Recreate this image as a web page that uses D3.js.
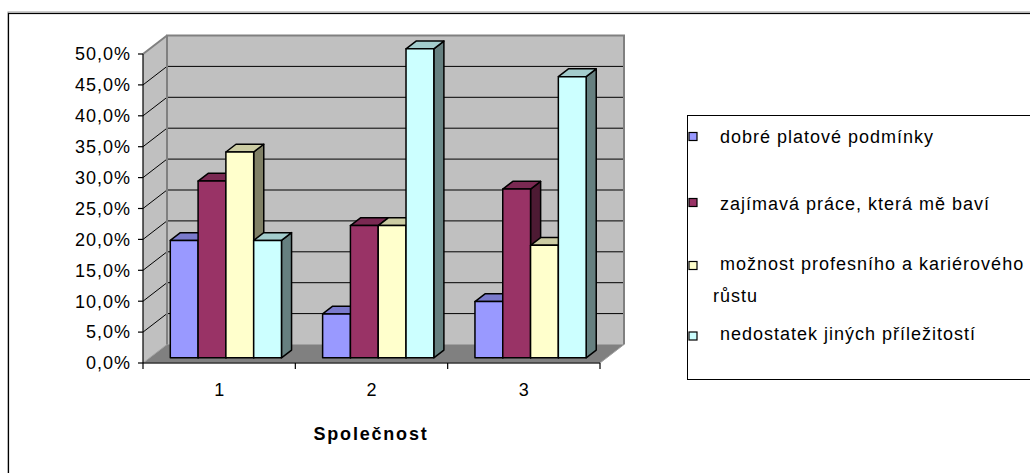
<!DOCTYPE html>
<html>
<head>
<meta charset="utf-8">
<script src="https://cdn.jsdelivr.net/npm/d3@7/dist/d3.min.js"></script>
<style>
  html, body { margin: 0; padding: 0; background: #fff; }
  svg { display: block; }
  text { font-family: "Liberation Sans", Arial, sans-serif; fill: #000; }
</style>
</head>
<body>
<svg id="chart" width="1030" height="473"></svg>
<script>
// Kategorie (společnosti) a hodnoty v procentech
const categories = ["1", "2", "3"];
const seriesNames = [
  "dobré platové podmínky",
  "zajímavá práce, která mě baví",
  "možnost profesního a kariérového růstu",
  "nedostatek jiných příležitostí"
];
const platove   = [19.0, 7.1, 9.1];
const zajimava  = [28.6, 21.4, 27.3];
const rust      = [33.3, 21.4, 18.2];
const nedostatek = [19.0, 50.0, 45.5];
const seriesValues = [platove, zajimava, rust, nedostatek];
const yTicks = [0, 5, 10, 15, 20, 25, 30, 35, 40, 45, 50];
const axisTitle = "Společnost";
const legendLines = [["dobré platové podmínky"], ["zajímavá práce, která mě baví"], ["možnost profesního a kariérového", "růstu"], ["nedostatek jiných příležitostí"]];

const frontCol = ["#9999FF", "#993366", "#FFFFCC", "#CCFFFF"];
const topCol   = ["#7A7ACC", "#7A2952", "#CCCCA3", "#A3CCCC"];
const sideCol  = ["#4D4D80", "#4D1A33", "#808066", "#668080"];

const svg = d3.select("#chart");

// outer frame
svg.append("rect").attr("x", 8).attr("y", 12).attr("width", 1040).attr("height", 480)
  .attr("fill", "none").attr("stroke", "#999").attr("stroke-width", 1);
svg.append("rect").attr("x", 8.5).attr("y", 13.5).attr("width", 1040).attr("height", 480)
  .attr("fill", "#fff").attr("stroke", "#000").attr("stroke-width", 1.2);

// 3D projection: depth 0 = front plane, 1 = back wall
const DX = 24, DY = -18.5;
const P = (x, y, d) => [x + d * DX, y + d * DY];
const poly = pts => pts.map(p => p.join(",")).join(" ");

const x0 = 143, x1 = 600;
const y = d3.scaleLinear().domain([0, 50]).range([363, 54]);
const xBand = d3.scaleBand().domain(categories).range([x0, x1]);
const xInner = d3.scaleBand().domain(d3.range(seriesNames.length))
  .range([0, xBand.bandwidth()]).paddingInner(0).paddingOuter(0.74);

const g = svg.append("g");

// back wall
g.append("polygon")
  .attr("points", poly([P(x0, y(50), 1), P(x1, y(50), 1), P(x1, y(0), 1), P(x0, y(0), 1)]))
  .attr("fill", "#C0C0C0");
// side wall
g.append("polygon")
  .attr("points", poly([P(x0, y(50), 0), P(x0, y(50), 1), P(x0, y(0), 1), P(x0, y(0), 0)]))
  .attr("fill", "#C0C0C0");
// floor
g.append("polygon")
  .attr("points", poly([P(x0, y(0), 0), P(x1, y(0), 0), P(x1, y(0), 1), P(x0, y(0), 1)]))
  .attr("fill", "#808080").attr("stroke", "#A0A0A0").attr("stroke-width", 1);

// gridlines on back and side walls
yTicks.filter(t => t > 0 && t < 50).forEach(t => {
  const a = P(x0, y(t), 1), b = P(x1, y(t), 1), c = P(x0, y(t), 0);
  g.append("line").attr("x1", a[0]).attr("y1", a[1]).attr("x2", b[0]).attr("y2", b[1])
    .attr("stroke", "#000").attr("stroke-width", 1);
  g.append("line").attr("x1", c[0]).attr("y1", c[1]).attr("x2", a[0]).attr("y2", a[1])
    .attr("stroke", "#000").attr("stroke-width", 1);
});

// wall edges
g.append("polyline")
  .attr("points", poly([P(x0, y(0), 1), P(x0, y(50), 1), P(x1, y(50), 1), P(x1, y(0), 1)]))
  .attr("fill", "none").attr("stroke", "#808080").attr("stroke-width", 2);
g.append("line")
  .attr("x1", P(x0, y(50), 0)[0]).attr("y1", P(x0, y(50), 0)[1])
  .attr("x2", P(x0, y(50), 1)[0]).attr("y2", P(x0, y(50), 1)[1])
  .attr("stroke", "#808080").attr("stroke-width", 2);

// bars, drawn left to right
const d0 = 0.28, d1 = 0.70;
const bars = g.append("g");
categories.forEach((cat, ci) => {
  seriesValues.forEach((vals, si) => {
    const v = vals[ci];
    const xl = xBand(cat) + xInner(si);
    const xr = xl + xInner.bandwidth();
    const yt = y(v), yb = y(0);
    const bg = bars.append("g").attr("stroke", "#000").attr("stroke-width", 1.5).attr("stroke-linejoin", "round");
    bg.append("polygon").attr("points", poly([P(xr, yt, d0), P(xr, yt, d1), P(xr, yb, d1), P(xr, yb, d0)]))
      .attr("fill", sideCol[si]);
    bg.append("polygon").attr("points", poly([P(xl, yt, d0), P(xr, yt, d0), P(xr, yt, d1), P(xl, yt, d1)]))
      .attr("fill", topCol[si]);
    bg.append("polygon").attr("points", poly([P(xl, yt, d0), P(xr, yt, d0), P(xr, yb, d0), P(xl, yb, d0)]))
      .attr("fill", frontCol[si]);
  });
});

// y axis
const fmt = t => d3.format(".1f")(t).replace(".", ",") + "%";
g.append("line").attr("x1", x0).attr("y1", y(50)).attr("x2", x0).attr("y2", y(0))
  .attr("stroke", "#000").attr("stroke-width", 1.2);
yTicks.forEach(t => {
  g.append("line").attr("x1", x0 - 5).attr("x2", x0).attr("y1", y(t)).attr("y2", y(t))
    .attr("stroke", "#000").attr("stroke-width", 1.2);
  g.append("text").attr("x", 131).attr("y", y(t)).attr("dy", "0.35em")
    .attr("text-anchor", "end").attr("font-size", 18).attr("letter-spacing", 1)
    .text(fmt(t));
});

// x axis
g.append("line").attr("x1", x0).attr("x2", x1).attr("y1", y(0)).attr("y2", y(0))
  .attr("stroke", "#000").attr("stroke-width", 1.2);
[...categories.map(c => xBand(c)), x1].forEach(xx => {
  g.append("line").attr("x1", xx).attr("x2", xx).attr("y1", y(0)).attr("y2", y(0) + 6)
    .attr("stroke", "#000").attr("stroke-width", 1.2);
});
categories.forEach(c => {
  g.append("text").attr("x", xBand(c) + xBand.bandwidth() / 2).attr("y", 390).attr("dy", "0.35em")
    .attr("text-anchor", "middle").attr("font-size", 18).text(c);
});
g.append("text").attr("x", 371).attr("y", 434).attr("dy", "0.35em")
  .attr("text-anchor", "middle").attr("font-size", 18).attr("font-weight", "bold")
  .attr("letter-spacing", 1.8).text(axisTitle);

// legend
const lg = svg.append("g");
lg.append("rect").attr("x", 687.5).attr("y", 115.5).attr("width", 400).attr("height", 264)
  .attr("fill", "#fff").attr("stroke", "#000").attr("stroke-width", 1);
const swatchY = [136.5, 202.5, 265.5, 336];
const baseY = [[143], [210], [270, 302], [340]];
seriesNames.forEach((name, i) => {
  lg.append("rect").attr("x", 689).attr("y", swatchY[i] - 4).attr("width", 8).attr("height", 8)
    .attr("fill", frontCol[i]).attr("stroke", "#000").attr("stroke-width", 1.2);
  legendLines[i].forEach((line, li) => {
    lg.append("text").attr("x", li === 0 ? 720 : 713).attr("y", baseY[i][li])
      .attr("font-size", 18).attr("letter-spacing", 1).text(line);
  });
});
</script>
</body>
</html>
